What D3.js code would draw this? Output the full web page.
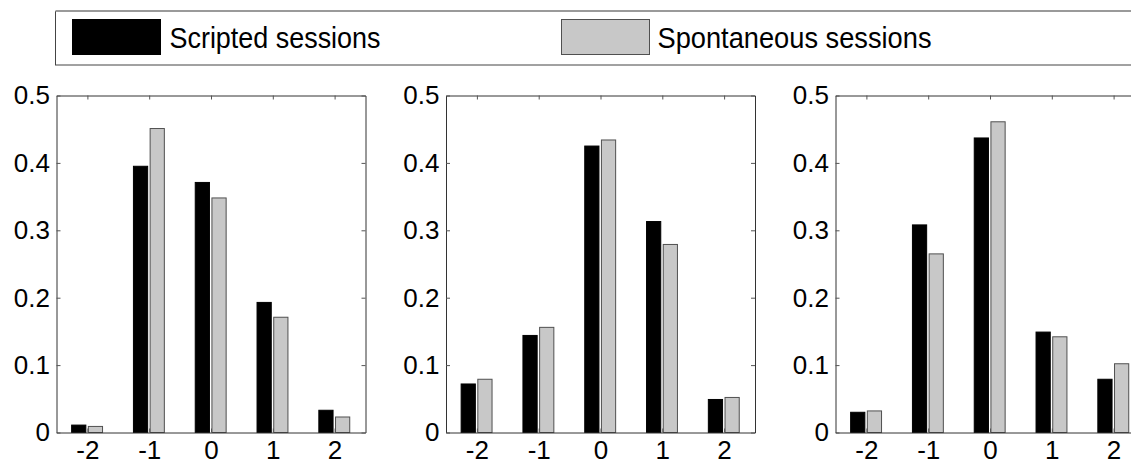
<!DOCTYPE html>
<html>
<head>
<meta charset="utf-8">
<script src="https://d3js.org/d3.v7.min.js"></script>
<style>
  body { margin: 0; background: #fff; }
  svg { display: block; font-family: Arial, "Liberation Sans", sans-serif; }
</style>
</head>
<body>
<div id="chart-area"></div>
<script>
// --- Data ---
var categories = [-2, -1, 0, 1, 2];
var yTicks = [0, 0.1, 0.2, 0.3, 0.4, 0.5];
var seriesNames = ["Scripted sessions", "Spontaneous sessions"];

var panel1Scripted = [0.011, 0.395, 0.371, 0.193, 0.033];
var panel1Spontaneous = [0.009, 0.451, 0.348, 0.171, 0.023];
var panel2Scripted = [0.072, 0.144, 0.425, 0.313, 0.049];
var panel2Spontaneous = [0.079, 0.156, 0.434, 0.279, 0.052];
var panel3Scripted = [0.030, 0.308, 0.437, 0.149, 0.079];
var panel3Spontaneous = [0.032, 0.265, 0.461, 0.142, 0.102];

var panels = [
	[panel1Scripted, panel1Spontaneous],
	[panel2Scripted, panel2Spontaneous],
	[panel3Scripted, panel3Spontaneous]
];

var colors = ["#000000", "#c8c8c8"];
var strokes = ["#000000", "#505050"];
// bar extents relative to the category, in x units
var barOffsets = [[-0.255, -0.025], [0.015, 0.245]];

// --- Setup the canvas ---
var canvasWidth = 1131;
var canvasHeight = 465;
var canvas = d3.select("#chart-area").append("svg")
	.attr("width", canvasWidth)
	.attr("height", canvasHeight);

var panelLeft = 56.5;
var panelStep = 389.5;
var panelWidth = 309;
var panelTop = 95.5;
var panelBottom = 432.5;
var tickFontSize = 26;

// --- Legend ---
var legend = canvas.append("g");
legend.append("rect")
	.attr("x", 55.5)
	.attr("y", 11.5)
	.attr("width", 1100)
	.attr("height", 53.5)
	.attr("fill", "#fff")
	.attr("stroke", "#444");
legend.append("line")
	.attr("x1", 55.5).attr("x2", canvasWidth)
	.attr("y1", 11).attr("y2", 11)
	.attr("stroke", "#9a9a9a")
	.attr("stroke-width", 2);

var legendItems = [
	{swatchX: 72, textX: 169.5, textLen: 211},
	{swatchX: 561, textX: 657.5, textLen: 274}
];
legendItems.forEach((item, i) => {
	legend.append("rect")
		.attr("x", item.swatchX + 0.5)
		.attr("y", 19.5)
		.attr("width", 88)
		.attr("height", 35)
		.attr("fill", colors[i])
		.attr("stroke", strokes[i]);
	legend.append("text")
		.attr("x", item.textX)
		.attr("y", 47.5)
		.attr("font-size", "29.5px")
		.attr("textLength", item.textLen)
		.attr("lengthAdjust", "spacingAndGlyphs")
		.attr("fill", "#000")
		.text(seriesNames[i]);
});

// --- Panels ---
var yScale = d3.scaleLinear()
	.domain([0, 0.5])
	.range([panelBottom, panelTop]);

panels.forEach((series, p) => {
	var left = panelLeft + p * panelStep;
	var xScale = d3.scaleLinear()
		.domain([-2.5, 2.5])
		.range([left, left + panelWidth]);

	var graph = canvas.append("g");

	// bars
	series.forEach((values, s) => {
		graph.selectAll(".bar-" + s)
			.data(values)
			.enter()
			.append("rect")
				.attr("class", "bar-" + s)
				.attr("x", (d, i) => xScale(categories[i] + barOffsets[s][0]))
				.attr("width", (d, i) => xScale(categories[i] + barOffsets[s][1]) - xScale(categories[i] + barOffsets[s][0]))
				.attr("y", (d) => yScale(d))
				.attr("height", (d) => yScale(0) - yScale(d))
				.attr("fill", colors[s])
				.attr("stroke", strokes[s])
				.attr("stroke-width", 1);
	});

	// axes (box with inward ticks)
	var bottomAxis = d3.axisBottom(xScale)
		.tickValues(categories)
		.tickFormat((d) => String(d))
		.tickSizeInner(-4)
		.tickSizeOuter(0)
		.tickPadding(8);
	var topAxis = d3.axisTop(xScale)
		.tickValues(categories)
		.tickFormat("")
		.tickSizeInner(-4)
		.tickSizeOuter(0);
	var leftAxis = d3.axisLeft(yScale)
		.tickValues(yTicks)
		.tickFormat((d) => String(d))
		.tickSizeInner(-4)
		.tickSizeOuter(0)
		.tickPadding(6.5);
	var rightAxis = d3.axisRight(yScale)
		.tickValues(yTicks)
		.tickFormat("")
		.tickSizeInner(-4)
		.tickSizeOuter(0);

	var axes = [
		[bottomAxis, "translate(0," + panelBottom + ")"],
		[topAxis, "translate(0," + panelTop + ")"],
		[leftAxis, "translate(" + left + ",0)"],
		[rightAxis, "translate(" + (left + panelWidth) + ",0)"]
	];
	axes.forEach((a) => {
		var g = graph.append("g")
			.attr("transform", a[1])
			.call(a[0]);
		g.select(".domain").attr("stroke", "#333");
		g.selectAll(".tick line").attr("stroke", "#555");
		g.selectAll(".tick text")
			.attr("font-size", tickFontSize + "px")
			.attr("font-family", "Arial, 'Liberation Sans', sans-serif")
			.attr("fill", "#000");
	});
});
</script>
</body>
</html>
